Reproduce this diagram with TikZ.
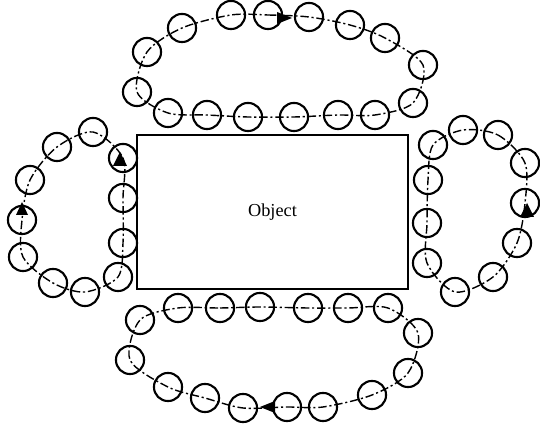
\documentclass[tikz,border=0pt]{standalone}
\usepackage{fontspec}
\setmainfont{Liberation Serif}
\usetikzlibrary{plotmarks}

\begin{document}
\begin{tikzpicture}[x=0.025cm,y=-0.025cm,
  orbit/.style={black,line width=1pt,dash pattern=on 6pt off 2pt on 1.5pt off 2pt,
               mark=o,mark size=10pt,mark options={solid,line width=1.5pt}},
  box/.style={draw=black,line width=1.5pt,minimum width=6.775cm,minimum height=3.85cm,
              inner sep=0pt,font=\fontsize{13}{15}\selectfont},
  head/.style={fill=black}]

\useasboundingbox (0,0) rectangle (540,425);
\node[box] (obj) at (272.5,212) {Object};

% the four loops of beads round the object
\draw[orbit] plot[smooth cycle] coordinates {(231,15) (268,15) (309,17) (350,25) (385,38)
  (423,65) (413,103) (375,115) (338,115) (294,117) (248,117) (207,115) (168,113) (137,92)
  (147,52) (182,28)};
\draw[orbit] plot[smooth cycle] coordinates {(93,132) (123,158) (123,198) (123,243) (118,277)
  (85,292) (53,283) (23,257) (22,220) (30,180) (57,147)};
\draw[orbit] plot[smooth cycle] coordinates {(463,130) (498,135) (525,163) (525,203) (517,243)
  (493,277) (455,292) (427,263) (427,223) (428,180) (433,145)};
\draw[orbit] plot[smooth cycle] coordinates {(178,308) (220,308) (260,307) (308,308) (348,308)
  (388,308) (418,333) (408,373) (372,395) (323,407) (287,407) (243,408) (205,398) (168,387)
  (130,360) (140,320)};

% direction marks
\fill[head] (292,18) -- (277,12) -- (277,24) -- cycle;
\fill[head] (120,152) -- (113,166) -- (127,166) -- cycle;
\fill[head] (22,202) -- (16,215) -- (28,215) -- cycle;
\fill[head] (527,203) -- (520,217) -- (534,217) -- cycle;
\fill[head] (260,407) -- (275,401) -- (275,413) -- cycle;
\end{tikzpicture}
\end{document}
